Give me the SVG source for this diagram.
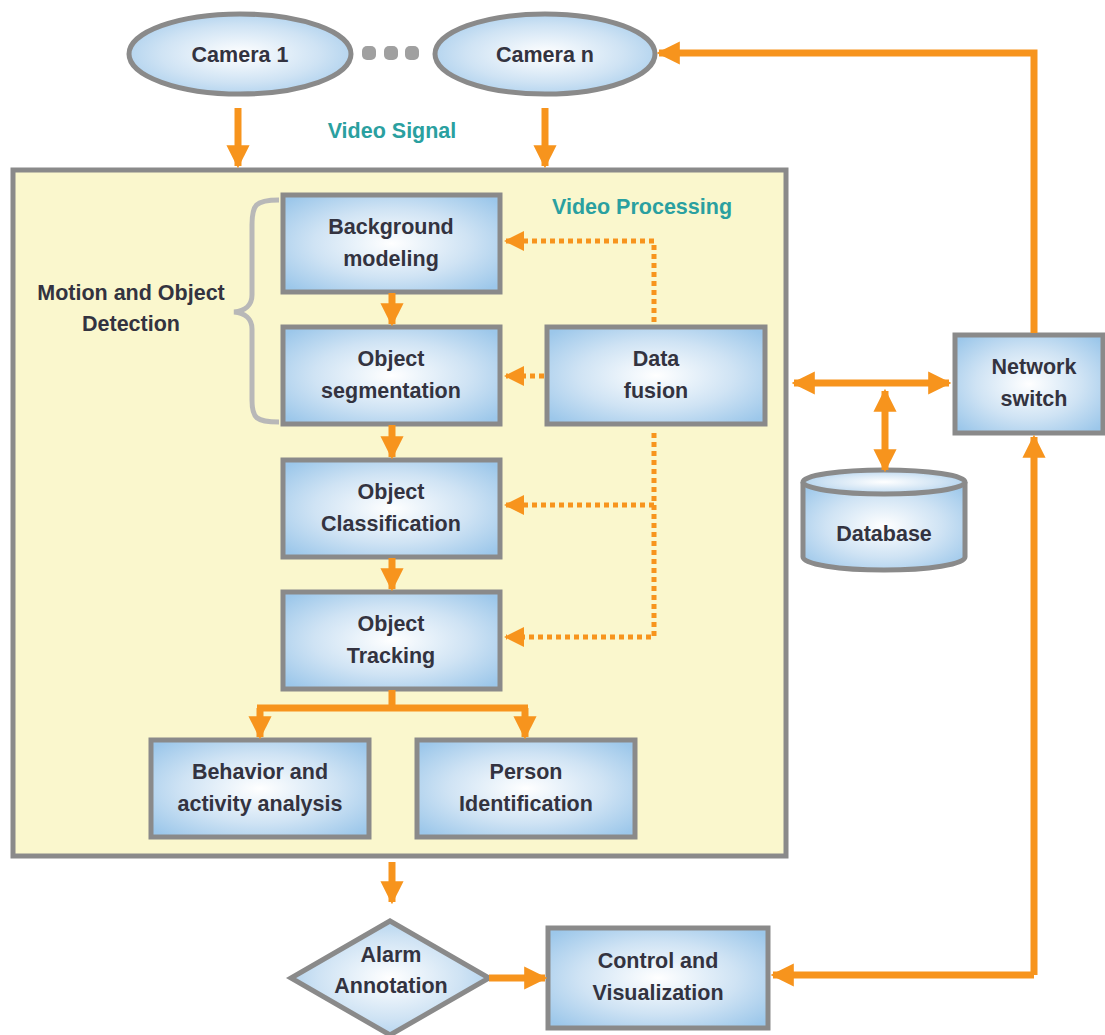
<svg xmlns="http://www.w3.org/2000/svg" width="1105" height="1035" viewBox="0 0 1105 1035">
<defs>
<radialGradient id="bg" cx="50%" cy="50%" r="65%">
<stop offset="0" stop-color="#ffffff"/>
<stop offset="0.55" stop-color="#cfe3f4"/>
<stop offset="1" stop-color="#9cc7ea"/>
</radialGradient>
<marker id="ah" viewBox="0 0 10 10" refX="9" refY="5" markerWidth="3.3" markerHeight="3.3" orient="auto-start-reverse" markerUnits="strokeWidth">
<path d="M0,0 L10,5 L0,10 z" fill="#F7941D"/>
</marker>
<marker id="ahd" viewBox="0 0 10 10" refX="9" refY="5" markerWidth="4" markerHeight="4" orient="auto" markerUnits="strokeWidth">
<path d="M0,0 L10,5 L0,10 z" fill="#F7941D"/>
</marker>
</defs>
<style>
.box{fill:url(#bg);stroke:#8a8a8a;stroke-width:5}
.t{font-family:"Liberation Sans",Arial,sans-serif;font-weight:bold;font-size:21.5px;fill:#333340;text-anchor:middle}
.teal{font-family:"Liberation Sans",Arial,sans-serif;font-weight:bold;font-size:21.5px;fill:#2aa0a0;text-anchor:middle}
.c{fill:none;stroke:#F7941D;stroke-width:7}
.d{fill:none;stroke:#F7941D;stroke-width:5;stroke-dasharray:5 4}
</style>
<rect x="0" y="0" width="1105" height="1035" fill="#ffffff"/>
<g id="container">
<rect x="13" y="170" width="773" height="686" fill="#faf7cd" stroke="#8a8a8a" stroke-width="5"/>
<text class="teal" x="642" y="214">Video Processing</text>
</g>
<g id="brace">
<path d="M279,200 C255,200 252,205 252,225 L252,295 C252,305 245,311 234,312 C245,313 252,319 252,329 L252,400 C252,418 256,422 279,422" fill="none" stroke="#b8b8b8" stroke-width="5"/>
<text class="t" x="131" y="300">Motion and Object</text>
<text class="t" x="131" y="331">Detection</text>
</g>
<g id="camera1">
<ellipse cx="240" cy="54" rx="111" ry="40" class="box"/>
<text class="t" x="240" y="62">Camera 1</text>
</g>
<g id="dots">
<rect x="362" y="46" width="14" height="14" rx="5" fill="#a0a0a0"/>
<rect x="384" y="46" width="14" height="14" rx="5" fill="#a0a0a0"/>
<rect x="405" y="46" width="14" height="14" rx="5" fill="#a0a0a0"/>
</g>
<g id="cameran">
<ellipse cx="545" cy="54" rx="110" ry="40" class="box"/>
<text class="t" x="545" y="62">Camera n</text>
</g>
<text class="teal" x="392" y="138">Video Signal</text>
<g id="bgmodel">
<rect x="283" y="195" width="217" height="97" class="box"/>
<text class="t" x="391" y="234">Background</text>
<text class="t" x="391" y="266">modeling</text>
</g>
<g id="objseg">
<rect x="283" y="327" width="217" height="97" class="box"/>
<text class="t" x="391" y="366">Object</text>
<text class="t" x="391" y="398">segmentation</text>
</g>
<g id="objclass">
<rect x="283" y="460" width="217" height="97" class="box"/>
<text class="t" x="391" y="499">Object</text>
<text class="t" x="391" y="531">Classification</text>
</g>
<g id="objtrack">
<rect x="283" y="592" width="217" height="97" class="box"/>
<text class="t" x="391" y="631">Object</text>
<text class="t" x="391" y="663">Tracking</text>
</g>
<g id="datafusion">
<rect x="547" y="327" width="218" height="97" class="box"/>
<text class="t" x="656" y="366">Data</text>
<text class="t" x="656" y="398">fusion</text>
</g>
<g id="behavior">
<rect x="151" y="740" width="218" height="97" class="box"/>
<text class="t" x="260" y="779">Behavior and</text>
<text class="t" x="260" y="811">activity analysis</text>
</g>
<g id="person">
<rect x="417" y="740" width="218" height="97" class="box"/>
<text class="t" x="526" y="779">Person</text>
<text class="t" x="526" y="811">Identification</text>
</g>
<g id="network">
<rect x="955" y="335" width="148" height="98" class="box"/>
<text class="t" x="1034" y="374">Network</text>
<text class="t" x="1034" y="406">switch</text>
</g>
<g id="database">
<path d="M803,482 L803,557 A81,13 0 0 0 965,557 L965,482" class="box"/>
<ellipse cx="884" cy="482" rx="81" ry="12" class="box"/>
<text class="t" x="884" y="541">Database</text>
</g>
<g id="alarm">
<polygon points="390,921 489,978 390,1035 291,978" class="box"/>
<text class="t" x="391" y="962">Alarm</text>
<text class="t" x="391" y="993">Annotation</text>
</g>
<g id="control">
<rect x="548" y="928" width="220" height="100" class="box"/>
<text class="t" x="658" y="968">Control and</text>
<text class="t" x="658" y="1000">Visualization</text>
</g>
<g id="connectors">
<line class="c" x1="238" y1="108" x2="238" y2="166" marker-end="url(#ah)"/>
<line class="c" x1="545" y1="108" x2="545" y2="166" marker-end="url(#ah)"/>
<line class="c" x1="392" y1="293" x2="392" y2="324" marker-end="url(#ah)"/>
<line class="c" x1="392" y1="425" x2="392" y2="457" marker-end="url(#ah)"/>
<line class="c" x1="392" y1="558" x2="392" y2="589" marker-end="url(#ah)"/>
<path class="c" d="M392,690 L392,708 M257,708 L528,708" stroke-width="6"/>
<line class="c" x1="260" y1="708" x2="260" y2="737" stroke-width="6" marker-end="url(#ah)"/>
<line class="c" x1="525" y1="708" x2="525" y2="737" stroke-width="6" marker-end="url(#ah)"/>
<path class="d" d="M654,322 L654,241 L506,241" marker-end="url(#ahd)"/>
<path class="d" d="M544,376 L506,376" marker-end="url(#ahd)"/>
<path class="d" d="M654,433 L654,637 L506,637" marker-end="url(#ahd)"/>
<path class="d" d="M654,505 L506,505" marker-end="url(#ahd)"/>
<path class="c" d="M1034,333 L1034,53 L659,53" marker-end="url(#ah)"/>
<path class="c" d="M1034,975 L1034,437" marker-end="url(#ah)"/>
<path class="c" d="M1034,975 L773,975" marker-end="url(#ah)"/>
<line class="c" x1="794" y1="383" x2="949" y2="383" marker-start="url(#ah)" marker-end="url(#ah)"/>
<line class="c" x1="885" y1="391" x2="885" y2="470" marker-start="url(#ah)" marker-end="url(#ah)"/>
<line class="c" x1="392" y1="862" x2="392" y2="902" marker-end="url(#ah)"/>
<line class="c" x1="489" y1="978" x2="545" y2="978" marker-end="url(#ah)"/>
</g>
</svg>
